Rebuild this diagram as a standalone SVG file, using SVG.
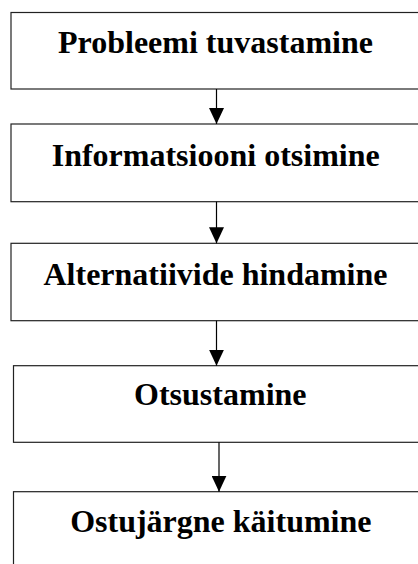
<svg xmlns="http://www.w3.org/2000/svg" width="418" height="564" viewBox="0 0 418 564">
<defs>
<style>
.box{fill:#fff;stroke:#222;stroke-width:1.2}
.lbl{font-family:"Liberation Serif","Times New Roman",serif;font-weight:bold;font-size:32px;fill:#000;text-anchor:middle}
.conn{stroke:#000;stroke-width:1.2;fill:none}
</style>
<marker id="ah" viewBox="0 0 16 15" refX="16" refY="7.5" markerWidth="16" markerHeight="15" markerUnits="userSpaceOnUse" orient="auto">
<path d="M0,0 L16,7.5 L0,15 Z" fill="#000"/>
</marker>
</defs>
<rect width="418" height="564" fill="#fff"/>
<g id="n1"><rect class="box" x="11" y="12.5" width="420" height="76.5"/><text class="lbl" x="215.5" y="53.3">Probleemi tuvastamine</text></g>
<g id="n2"><rect class="box" x="11" y="124" width="420" height="77.7"/><text class="lbl" x="215.7" y="166">Informatsiooni otsimine</text></g>
<g id="n3"><rect class="box" x="11" y="243.3" width="420" height="77.4"/><text class="lbl" x="215.5" y="285">Alternatiivide hindamine</text></g>
<g id="n4"><rect class="box" x="13.5" y="365.7" width="420" height="76.6"/><text class="lbl" x="220.3" y="405">Otsustamine</text></g>
<g id="n5"><rect class="box" x="13.5" y="491.7" width="420" height="90"/><text class="lbl" x="220.8" y="531.7">Ostujärgne käitumine</text></g>
<g id="connectors">
<line class="conn" x1="216.5" y1="89" x2="216.5" y2="124" marker-end="url(#ah)"/>
<line class="conn" x1="216.5" y1="201.7" x2="216.5" y2="243.3" marker-end="url(#ah)"/>
<line class="conn" x1="216.5" y1="320.7" x2="216.5" y2="365.7" marker-end="url(#ah)"/>
<line class="conn" x1="219" y1="442.3" x2="219" y2="491.7" marker-end="url(#ah)"/>
</g>
</svg>
